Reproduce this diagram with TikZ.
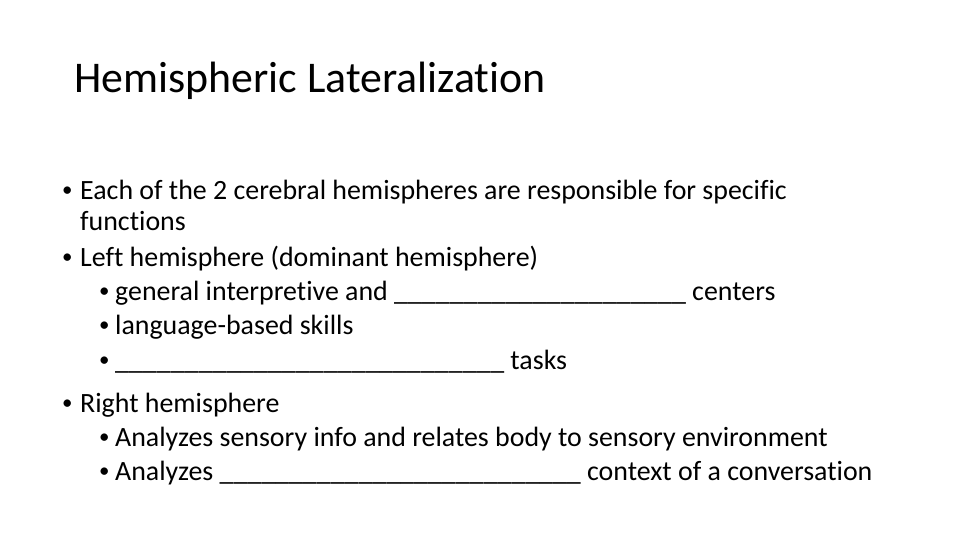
\documentclass[tikz,border=0pt]{standalone}
\usepackage{fontspec}
\setmainfont[Ligatures={NoCommon,NoRare,NoContextual}]{Carlito}
\newcommand{\blanks}[1]{\foreach \i in {1,...,#1}{\_}}
\tikzset{
  title/.style={anchor=base west, inner sep=0pt, font=\fontsize{44}{44}\selectfont},
  body/.style={anchor=base west, inner sep=0pt, font=\fontsize{28}{28}\selectfont},
  sub/.style={anchor=base west, inner sep=0pt, font=\fontsize{28}{28}\selectfont},
  dot/.style={anchor=base west, inner sep=0pt, font=\fontsize{21}{21}\selectfont},
}
\begin{document}
\begin{tikzpicture}[x=1bp,y=-1bp]
\useasboundingbox (0,0) rectangle (960,540);
\node[title] (t) at (74,93) {Hemispheric Lateralization};
\node[dot] (b1) at (62,197) {•};
\node[body] (l1) at (80,200) {Each of the 2 cerebral hemispheres are responsible for specific};
\node[body] (l2) at (80,231) {functions};
\node[dot] (b3) at (62,264) {•};
\node[body] (l3) at (80,267) {Left hemisphere (dominant hemisphere)};
\node[dot] (b4) at (99,298) {•};
\node[sub] (l4) at (115,301) {general interpretive and \blanks{21} centers};
\node[dot] (b5) at (99,332) {•};
\node[sub] (l5) at (115,335) {language-based skills};
\node[dot] (b6) at (99,367) {•};
\node[sub] (l6) at (115,370) {\blanks{28} tasks};
\node[dot] (b7) at (62,409) {•};
\node[body] (l7) at (80,412) {Right hemisphere};
\node[dot] (b8) at (99,443) {•};
\node[sub] (l8) at (115,446) {Analyzes sensory info and relates body to sensory environment};
\node[dot] (b9) at (99,477) {•};
\node[sub] (l9) at (115,480) {Analyzes \blanks{26} context of a conversation};
\end{tikzpicture}
\end{document}
